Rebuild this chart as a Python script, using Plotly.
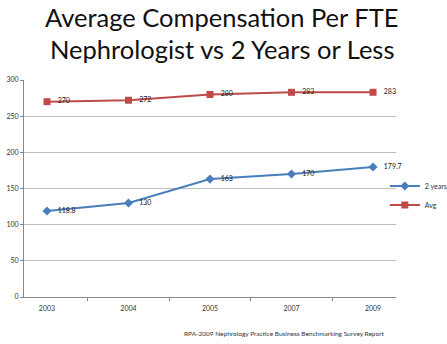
import plotly.graph_objects as go

years = ["2003", "2004", "2005", "2007", "2009"]
two_years = [118.8, 130, 163, 170, 179.7]
avg = [270, 272, 280, 283, 283]
two_labels = ["118.8", "130", "163", "170", "179.7"]
avg_labels = ["270", "272", "280", "283", "283"]

fig = go.Figure()
fig.add_trace(go.Scatter(
    x=years, y=two_years, name="2 years", mode="lines+markers+text",
    text=two_labels, texttemplate="   %{text}", textposition="middle right",
    textfont=dict(size=7, color="#222222"), cliponaxis=False,
    line=dict(color="#4A7EBB", width=2),
    marker=dict(symbol="diamond", size=7, color="#4A7EBB"),
))
fig.add_trace(go.Scatter(
    x=years, y=avg, name="Avg", mode="lines+markers+text",
    text=avg_labels, texttemplate="   %{text}", textposition="middle right",
    textfont=dict(size=7, color="#222222"), cliponaxis=False,
    line=dict(color="#BE4B48", width=2),
    marker=dict(symbol="square", size=7, color="#BE4B48"),
))

fig.update_layout(
    width=447, height=344,
    margin=dict(l=24, r=51, t=80, b=47, autoexpand=False),
    paper_bgcolor="white", plot_bgcolor="white",
    font=dict(family="Lato, sans-serif", size=7, color="#333333"),
    showlegend=True,
    legend=dict(x=0.97, y=(297 - 195.5) / 217, xanchor="left", yanchor="middle",
                font=dict(size=7, color="#333333"), itemwidth=30,
                tracegroupgap=0, bgcolor="rgba(0,0,0,0)"),
    xaxis=dict(type="category", showgrid=False, showline=True,
               linecolor="#888888", linewidth=1, ticks="outside",
               tickson="boundaries", ticklen=3, tickcolor="#888888",
               tickfont=dict(size=7), ticklabelstandoff=5),
    yaxis=dict(range=[0, 300], dtick=50, showgrid=True, gridcolor="#BEBEBE",
               gridwidth=1, showline=True, linecolor="#888888", linewidth=1,
               ticks="outside", ticklen=3, tickcolor="#888888",
               tickfont=dict(size=7), zeroline=False),
    annotations=[
        dict(text="Average Compensation Per FTE",
             x=0.533, y=(297 - 17) / 217, xref="paper", yref="paper",
             xanchor="center", yanchor="middle", showarrow=False,
             font=dict(size=25.5, family="Lato, sans-serif", color="#111111")),
        dict(text="Nephrologist vs 2 Years or Less",
             x=0.533, y=(297 - 49) / 217, xref="paper", yref="paper",
             xanchor="center", yanchor="middle", showarrow=False,
             font=dict(size=25.5, family="Lato, sans-serif", color="#111111")),
        dict(text="RPA-2009 Nephrology Practice Business Benchmarking Survey Report",
             x=0.977, y=(297 - 333) / 217, xref="paper", yref="paper",
             xanchor="right", yanchor="middle", showarrow=False,
             font=dict(size=6.5, color="#333333")),
    ],
)
fig.write_html("out.html")
